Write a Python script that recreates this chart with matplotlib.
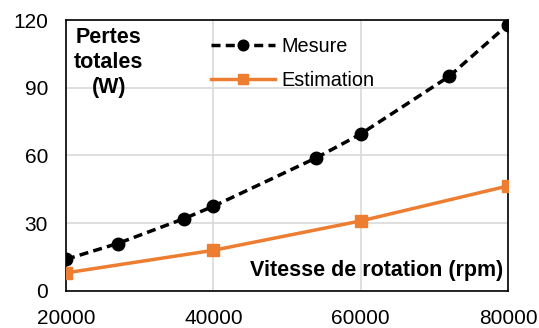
import matplotlib
import matplotlib.pyplot as plt

matplotlib.use('Agg')
plt.rcParams['font.family'] = ['Liberation Sans', 'DejaVu Sans']

# Mesure (measured losses)
mes_speed = [20000, 27000, 36000, 40000, 54000, 60000, 72000, 80000]
mes_loss = [14, 21, 32, 37.5, 59, 69.5, 95, 118]

# Estimation
est_speed = [20000, 40000, 60000, 80000]
est_loss = [8, 18, 31, 46.5]

x_ticks = [20000, 40000, 60000, 80000]
y_ticks = [0, 30, 60, 90, 120]

fig = plt.figure(figsize=(5.39, 3.28), dpi=100)
ax = fig.add_axes([0.1225, 0.113, 0.82, 0.826])

ax.plot(mes_speed, mes_loss, color='black', linestyle=(0, (2.6, 1.5)), linewidth=2.5,
        marker='o', markersize=9, label='Mesure', zorder=3)
ax.plot(est_speed, est_loss, color='#ED7D31', linewidth=2.5,
        marker='s', markersize=9, label='Estimation', zorder=3)

ax.set_xlim(20000, 80000)
ax.set_ylim(0, 120)
ax.set_xticks(x_ticks)
ax.set_yticks(y_ticks)
ax.tick_params(length=0, labelsize=15)
ax.tick_params(axis='x', pad=13)
ax.tick_params(axis='y', pad=13)
ax.grid(color='#d9d9d9', linewidth=1.2)
ax.set_axisbelow(True)
for s in ax.spines.values():
    s.set_linewidth(1.2)
    s.set_color('black')

ax.text(0.097, 0.975, 'Pertes\ntotales\n(W)', transform=ax.transAxes, ha='center', va='top',
        fontsize=15.5, fontweight='bold', linespacing=1.25)
ax.text(0.99, 0.035, 'Vitesse de rotation (rpm)', transform=ax.transAxes, ha='right',
        va='bottom', fontsize=15.5, fontweight='bold')

leg = ax.legend(loc='upper left', bbox_to_anchor=(0.31, 0.965), frameon=False, fontsize=14.3,
                handlelength=3.2, handletextpad=0.35, labelspacing=0.75, borderaxespad=0,
                markerscale=0.85)

fig.savefig('out.png', dpi=100)
